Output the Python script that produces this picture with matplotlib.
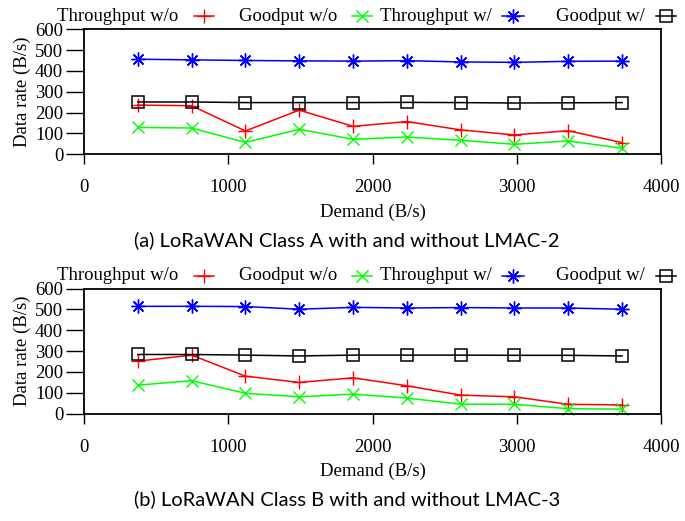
import matplotlib
matplotlib.use("Agg")
import matplotlib.pyplot as plt
from matplotlib.lines import Line2D

# demand levels (B/s)
demand = [373, 746, 1119, 1492, 1865, 2238, 2611, 2984, 3357, 3730]

# (a) Class A with / without LMAC-2
a_thr_wo = [236, 233, 112, 212, 134, 157, 117, 93, 113, 56]
a_good_wo = [129, 126, 57, 120, 72, 83, 67, 48, 64, 29]
a_thr_w = [456, 453, 450, 448, 447, 449, 443, 441, 446, 447]
a_good_w = [251, 251, 248, 248, 248, 249, 248, 246, 247, 248]

# (b) Class B with / without LMAC-3
b_thr_wo = [252, 281, 180, 150, 172, 134, 89, 81, 45, 42]
b_good_wo = [137, 158, 98, 81, 94, 75, 46, 45, 24, 22]
b_thr_w = [515, 515, 514, 501, 510, 507, 509, 507, 507, 501]
b_good_w = [284, 284, 281, 277, 281, 281, 281, 280, 280, 277]

labels = ["Throughput w/o", "Goodput w/o", "Throughput w/", "Goodput w/"]
captions = ["(a) LoRaWAN Class A with and without LMAC-2",
            "(b) LoRaWAN Class B with and without LMAC-3"]

styles = [
    dict(color="#ff0000", marker="+", markersize=10, mew=1.0),
    dict(color="#00ff00", marker="x", markersize=8, mew=1.0),
    dict(color="#0000ff", marker=(8, 2, 0), markersize=10, mew=1.0),
    dict(color="black", marker="s", markersize=8.5, mew=1.1, mfc="none"),
]

serif = "Liberation Serif"
W, H = 685, 521
fig = plt.figure(figsize=(W / 100, H / 100), dpi=100)


def px_ax(left, top, right, bottom):
    return fig.add_axes([left / W, 1 - bottom / H, (right - left) / W, (bottom - top) / H])


# key layout in figure pixels: (text right edge, sample start, sample end)
key_pos = [(178, 194, 214), (337, 352, 372), (492, 502, 524), (645, 656, 676)]

panels = [
    ((a_thr_wo, a_good_wo, a_thr_w, a_good_w), 29.2, 154.3),
    ((b_thr_wo, b_good_wo, b_thr_w, b_good_w), 288.6, 413.7),
]

for i, (series, top, bottom) in enumerate(panels):
    ax = px_ax(84, top, 661, bottom)
    for ys, st in zip(series, styles):
        ax.plot(demand, ys, lw=1.1, clip_on=False, **st)
    ax.set_xlim(0, 4000)
    ax.set_ylim(0, 600)
    ax.set_xticks([0, 1000, 2000, 3000, 4000])
    ax.set_yticks([0, 100, 200, 300, 400, 500, 600])
    ax.tick_params(axis="x", direction="out", length=7, width=1, pad=11, labelsize=13.5)
    ax.tick_params(axis="y", direction="out", length=13, width=1, pad=2, labelsize=13.5)
    for lab in ax.get_xticklabels() + ax.get_yticklabels():
        lab.set_family(serif)
    for sp in ax.spines.values():
        sp.set_linewidth(1.3)
    ax.set_xlabel("Demand (B/s)", family=serif, fontsize=13.5, labelpad=5)
    ax.set_ylabel("Data rate (B/s)", family=serif, fontsize=13.5, labelpad=3)

    # gnuplot-style key above the plot
    ky = 1 - (top - 13) / H
    for lab, st, (tx, s0, s1) in zip(labels, styles, key_pos):
        fig.text(tx / W, ky, lab, ha="right", va="center", family=serif, fontsize=13.5)
        fig.add_artist(Line2D([s0 / W, s1 / W], [ky, ky], transform=fig.transFigure,
                              lw=1.1, color=st["color"]))
        fig.add_artist(Line2D([(s0 + s1) / 2 / W], [ky], transform=fig.transFigure,
                              linestyle="none", **st))

    fig.text(347 / W, 1 - (bottom + 86) / H, captions[i], ha="center", va="center",
             family="Lato", fontsize=14.5)

fig.savefig("out.png", dpi=100)
